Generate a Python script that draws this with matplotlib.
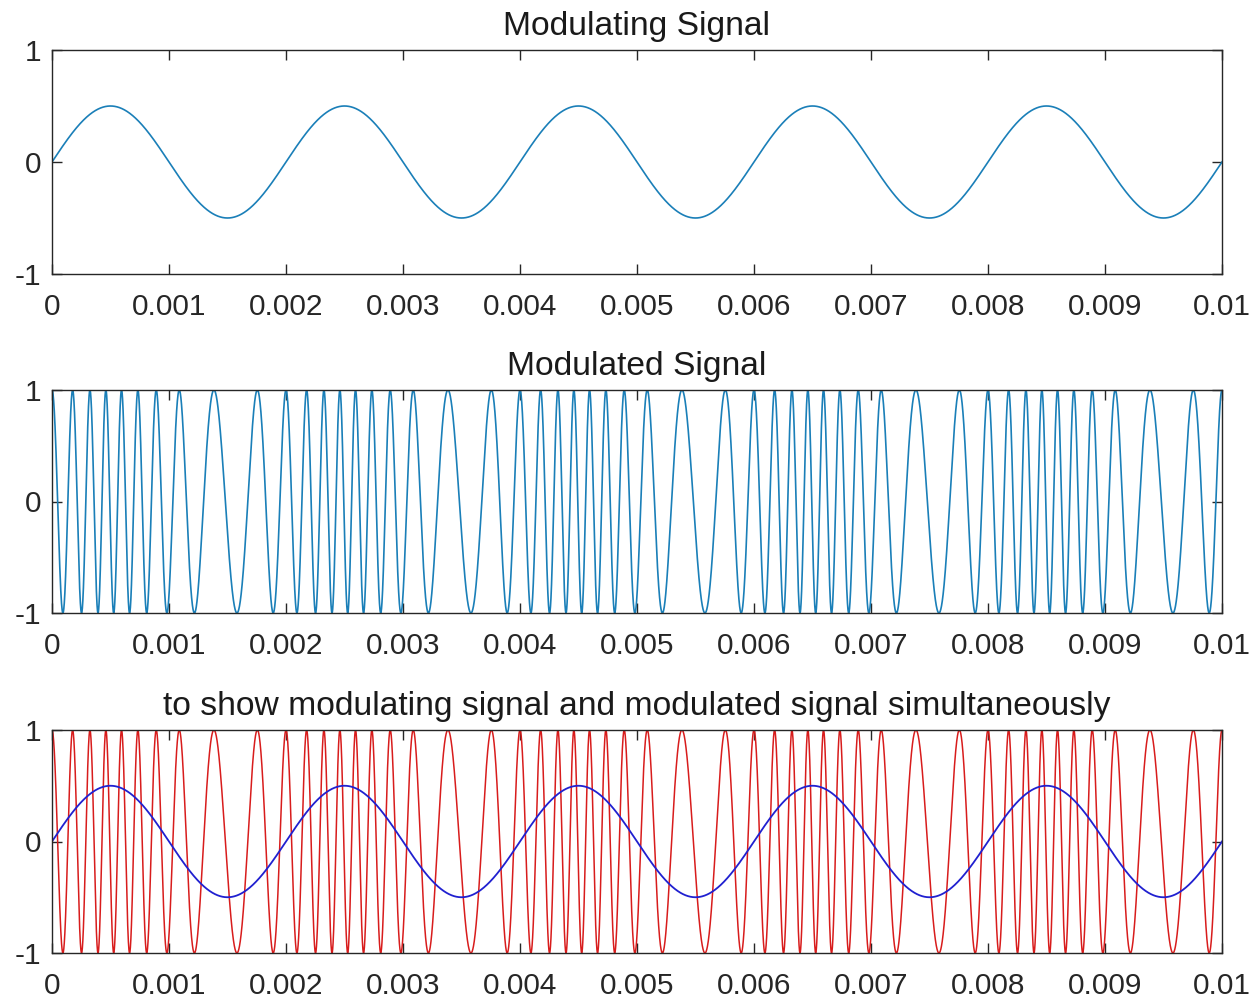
import numpy as np
import matplotlib
matplotlib.use("Agg")
import matplotlib.pyplot as plt

plt.rcParams["font.family"] = ["Liberation Sans", "DejaVu Sans"]

# values
msg_amp = 0.5          # peak of the modulating sine
msg_freq = 500         # Hz, one period = 0.002 s
carrier_freq = 5000    # Hz, 10 carrier cycles per message period
freq_dev = 5000        # Hz per unit of message (peak deviation 2500 Hz)
t_end = 0.01

x_ticks = [0, 0.001, 0.002, 0.003, 0.004, 0.005, 0.006, 0.007, 0.008, 0.009, 0.01]
x_labels = ["0", "0.001", "0.002", "0.003", "0.004", "0.005",
            "0.006", "0.007", "0.008", "0.009", "0.01"]
y_ticks = [-1, 0, 1]
y_labels = ["-1", "0", "1"]
titles = ["Modulating Signal",
          "Modulated Signal",
          "to show modulating signal and modulated signal simultaneously"]

t = np.linspace(0, t_end, 20001)
msg = msg_amp * np.sin(2 * np.pi * msg_freq * t)
phase = 2 * np.pi * carrier_freq * t + 2 * np.pi * freq_dev * msg_amp * (
    1 - np.cos(2 * np.pi * msg_freq * t)) / (2 * np.pi * msg_freq)
fm = np.cos(phase)

fig = plt.figure(figsize=(12.59, 10), dpi=100)

boxes = [
    [0.0413, 0.726, 0.9293, 0.224],
    [0.0413, 0.387, 0.9293, 0.223],
    [0.0413, 0.047, 0.9293, 0.223],
]

axes = []
for box in boxes:
    ax = fig.add_axes(box)
    axes.append(ax)

axes[0].plot(t, msg, color="#1a7fb8", lw=1.2)
axes[1].plot(t, fm, color="#1a7fb8", lw=1.2)
axes[2].plot(t, fm, color="#d81c1c", lw=1.1)
axes[2].plot(t, msg, color="#2020d0", lw=1.3)

for ax, title in zip(axes, titles):
    ax.set_xlim(0, t_end)
    ax.set_ylim(-1, 1)
    ax.set_xticks(x_ticks)
    ax.set_xticklabels(x_labels)
    ax.set_yticks(y_ticks)
    ax.set_yticklabels(y_labels)
    ax.tick_params(direction="in", length=7, width=1.0, top=True, right=True,
                   labelsize=21.5, colors="#262626")
    ax.tick_params(axis="x", pad=13.5)
    ax.tick_params(axis="y", pad=8)
    for s in ax.spines.values():
        s.set_color("#262626")
        s.set_linewidth(1.0)
    ax.set_title(title, fontsize=24.2, color="#1a1a1a", pad=11)

fig.savefig("out.png", dpi=100, facecolor="white")
